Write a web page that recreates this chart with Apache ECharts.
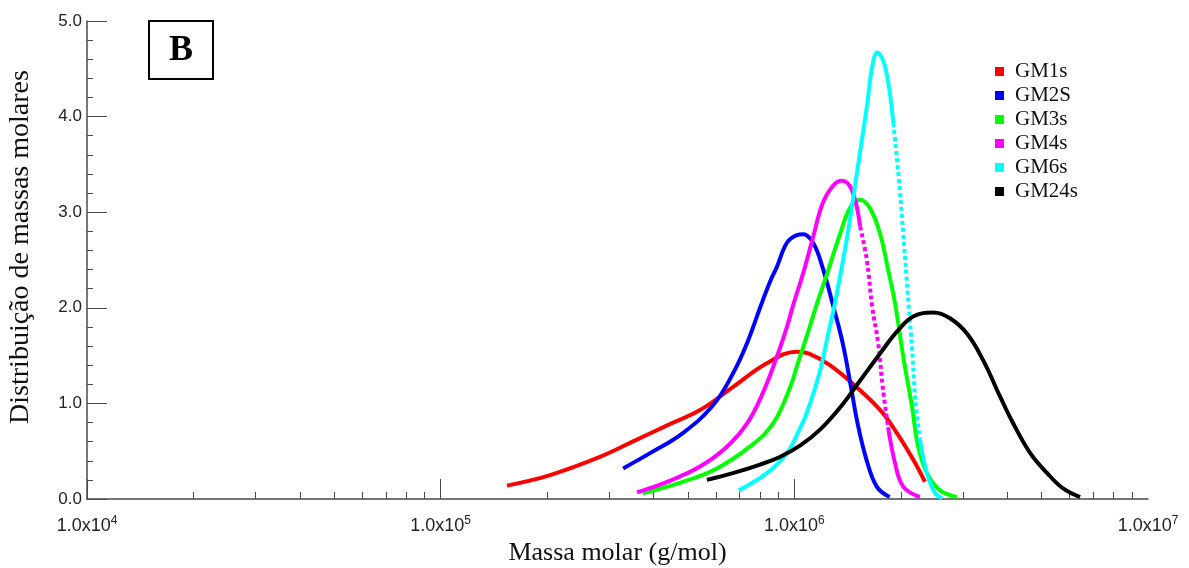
<!DOCTYPE html>
<html>
<head>
<meta charset="utf-8">
<title>GM distribution B</title>
<script src="https://cdn.jsdelivr.net/npm/echarts@6/dist/echarts.min.js"></script>
<style>
  html, body { margin: 0; padding: 0; background: #fff; }
  #main { width: 1189px; height: 568px; }
</style>
</head>
<body>
<div id="main"></div>
<script>
// series names and colours
var seriesNames = ['GM1s', 'GM2S', 'GM3s', 'GM4s', 'GM6s', 'GM24s'];
var seriesColors = ['#ff0000', '#0000ff', '#00ff00', '#ff00ff', '#00ffff', '#000000'];

// molar mass (g/mol) and distribution values
var gm1sMass = [1.54e5, 2.04e5, 2.82e5, 3.49e5, 4.37e5, 5.41e5, 6.70e5, 8.36e5, 1.016e6, 1.10e6, 1.26e6, 1.5e6, 1.75e6, 1.95e6, 2.17e6, 2.34e6];
var gm1sValue = [0.14, 0.25, 0.44, 0.60, 0.77, 0.93, 1.17, 1.42, 1.54, 1.52, 1.40, 1.17, 0.93, 0.69, 0.41, 0.18];

var gm2sMass = [3.28e5, 3.91e5, 4.84e5, 5.89e5, 6.70e5, 7.35e5, 8.0e5, 8.53e5, 8.93e5, 9.53e5, 1.016e6, 1.06e6, 1.13e6, 1.2e6, 1.29e6, 1.37e6, 1.44e6, 1.51e6, 1.6e6, 1.71e6, 1.86e6];
var gm2sValue = [0.32, 0.48, 0.69, 0.98, 1.31, 1.63, 2.00, 2.27, 2.43, 2.68, 2.76, 2.77, 2.68, 2.43, 2.01, 1.63, 1.21, 0.79, 0.41, 0.13, 0.02];

var gm3sMass = [3.73e5, 4.84e5, 6.04e5, 7.5e5, 8.71e5, 9.73e5, 1.023e6, 1.084e6, 1.16e6, 1.239e6, 1.349e6, 1.439e6, 1.535e6, 1.637e6, 1.746e6, 1.841e6, 1.928e6, 2.032e6, 2.153e6, 2.239e6, 2.371e6, 2.582e6, 2.884e6];
var gm3sValue = [0.06, 0.18, 0.32, 0.55, 0.79, 1.17, 1.42, 1.70, 2.05, 2.36, 2.78, 3.05, 3.13, 3.04, 2.78, 2.40, 2.04, 1.49, 0.96, 0.55, 0.27, 0.09, 0.02];

var gm4sMass = [3.59e5, 4.37e5, 5.41e5, 6.46e5, 7.35e5, 8.15e5, 8.93e5, 9.53e5, 9.91e5, 1.059e6, 1.13e6, 1.202e6, 1.288e6, 1.365e6, 1.455e6, 1.535e6, 1.603e6, 1.66e6, 1.726e6, 1.778e6, 1.841e6, 1.928e6, 2.032e6, 2.265e6];
var gm4sValue = [0.07, 0.18, 0.34, 0.55, 0.79, 1.11, 1.49, 1.80, 2.02, 2.36, 2.74, 3.09, 3.28, 3.33, 3.23, 2.85, 2.50, 2.01, 1.63, 1.17, 0.75, 0.37, 0.13, 0.02];

var gm6sMass = [6.97e5, 8.36e5, 9.53e5, 1.023e6, 1.084e6, 1.178e6, 1.259e6, 1.303e6, 1.406e6, 1.503e6, 1.603e6, 1.66e6, 1.714e6, 1.807e6, 1.905e6, 1.968e6, 2.032e6, 2.099e6, 2.153e6, 2.198e6, 2.265e6, 2.371e6, 2.5e6, 2.618e6];
var gm6sValue = [0.09, 0.27, 0.48, 0.69, 0.90, 1.32, 1.80, 2.05, 2.71, 3.41, 4.10, 4.52, 4.67, 4.52, 3.93, 3.41, 2.78, 2.08, 1.56, 1.04, 0.62, 0.27, 0.06, 0.01];

var gm24sMass = [5.66e5, 6.70e5, 8.0e5, 9.1e5, 1.04e6, 1.178e6, 1.349e6, 1.535e6, 1.746e6, 1.95e6, 2.168e6, 2.472e6, 2.754e6, 3.076e6, 3.42e6, 3.819e6, 4.159e6, 4.645e6, 5.188e6, 5.754e6, 6.427e6];
var gm24sValue = [0.20, 0.27, 0.36, 0.44, 0.56, 0.72, 0.96, 1.24, 1.52, 1.75, 1.91, 1.95, 1.89, 1.73, 1.45, 1.07, 0.79, 0.48, 0.27, 0.11, 0.02];

// axis ticks
var xLabelTicks = [1e4, 1e5, 1e6, 1e7];
var xMajorTicks = [1e4, 1e5, 1e6];
var xMinorTicks = [];
xMajorTicks.forEach(function (d) {
  for (var k = 2; k <= 9; k++) xMinorTicks.push(k * d);
});

var masses = [gm1sMass, gm2sMass, gm3sMass, gm4sMass, gm6sMass, gm24sMass];
var values = [gm1sValue, gm2sValue, gm3sValue, gm4sValue, gm6sValue, gm24sValue];

// point-index ranges that the original plotted sparsely (shows as dots)
var dottedRange = { GM4s: [15, 20], GM6s: [14, 20] };

function pairs(xs, ys) {
  return xs.map(function (x, i) { return [x, ys[i]]; });
}

var axisColor = '#4a4a4a';
var labelFont = 'Liberation Sans, Arial, sans-serif';
var serif = 'Liberation Serif, Times New Roman, serif';

function lineSeries(name, color, data, dotted) {
  return {
    name: name,
    type: 'line',
    smooth: 0.4,
    symbol: 'none',
    lineStyle: { color: color, width: 4, type: dotted ? [4, 3] : 'solid', cap: 'butt' },
    itemStyle: { color: color },
    data: data
  };
}

var series = [];
seriesNames.forEach(function (name, i) {
  var data = pairs(masses[i], values[i]);
  var r = dottedRange[name];
  if (!r) {
    series.push(lineSeries(name, seriesColors[i], data, false));
    return;
  }
  series.push(lineSeries(name, seriesColors[i], data.slice(0, r[0] + 1), false));
  series.push(lineSeries(name, seriesColors[i], data.slice(r[0], r[1] + 1), true));
  series.push(lineSeries(name, seriesColors[i], data.slice(r[1]), false));
});

var chart = echarts.init(document.getElementById('main'));
chart.setOption({
  animation: false,
  backgroundColor: '#fff',
  grid: { left: 87, right: 41, top: 21, bottom: 69, outerBoundsMode: 'none' },
  legend: {
    orient: 'vertical',
    left: 990,
    top: 56,
    icon: 'rect',
    itemWidth: 9,
    itemHeight: 9,
    itemGap: 3,
    data: seriesNames,
    textStyle: { fontFamily: serif, fontSize: 21, color: '#111', padding: [0, 0, 0, 6] }
  },
  xAxis: [{
    type: 'log',
    logBase: 10,
    min: 1e4,
    max: 1e7,
    name: 'Massa molar (g/mol)',
    nameLocation: 'middle',
    nameGap: 41,
    nameTextStyle: { fontFamily: serif, fontSize: 26, color: '#111' },
    axisLine: { lineStyle: { color: axisColor, width: 1.5 } },
    axisTick: { inside: true, length: 20, lineStyle: { color: axisColor }, customValues: xMajorTicks },
    axisLabel: {
      margin: 16,
      color: '#222',
      fontFamily: labelFont,
      fontSize: 18,
      customValues: xLabelTicks,
      formatter: function (v) {
        return '1.0x10{sup|' + Math.round(Math.log10(v)) + '}';
      },
      rich: { sup: { fontSize: 12, fontFamily: labelFont, color: '#222', padding: [0, 0, 10, 0] } }
    },
    splitLine: { show: false }
  }, {
    type: 'log',
    logBase: 10,
    min: 1e4,
    max: 1e7,
    position: 'bottom',
    axisLine: { show: false },
    axisTick: { inside: true, length: 7, lineStyle: { color: axisColor }, customValues: xMinorTicks },
    axisLabel: { show: false },
    splitLine: { show: false }
  }],
  yAxis: {
    type: 'value',
    min: 0,
    max: 5,
    interval: 1,
    name: 'Distribuição de massas molares',
    nameLocation: 'middle',
    nameGap: 52,
    nameTextStyle: { fontFamily: serif, fontSize: 28, color: '#111', padding: [0, 0, 0, 26] },
    axisLine: { show: true, lineStyle: { color: axisColor, width: 1.5 } },
    axisTick: { show: true, inside: true, length: 20, lineStyle: { color: axisColor } },
    minorTick: { show: true, splitNumber: 5, length: 6, lineStyle: { color: axisColor } },
    axisLabel: {
      margin: 5,
      color: '#222',
      fontFamily: labelFont,
      fontSize: 17,
      formatter: function (v) { return v.toFixed(1); }
    },
    splitLine: { show: false }
  },
  graphic: [{
    type: 'group',
    left: 148,
    top: 20,
    children: [{
      type: 'rect',
      shape: { x: 0, y: 0, width: 64, height: 58 },
      style: { fill: '#fff', stroke: '#000', lineWidth: 2 }
    }, {
      type: 'text',
      x: 32,
      y: 30,
      style: {
        text: 'B',
        fontFamily: serif,
        fontWeight: 'bold',
        fontSize: 36,
        fill: '#000',
        align: 'center',
        verticalAlign: 'middle'
      }
    }]
  }],
  series: series
});
</script>
</body>
</html>
